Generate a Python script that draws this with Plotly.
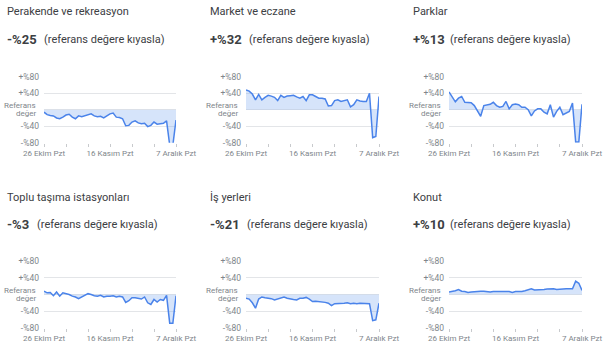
import pandas as pd
import plotly.graph_objects as go

# ---------------- data ----------------
start_date = "2020-10-26"
n_days = 43
tick_dates = ["2020-10-26", "2020-11-02", "2020-11-09", "2020-11-16",
              "2020-11-23", "2020-11-30", "2020-12-07"]
tick_text = ["26 Ekim Pzt", "", "", "16 Kasım Pzt", "", "", "7 Aralık Pzt"]
y_tick_vals = [80, 40, 0, -40, -80]
y_tick_text = ["+%80", "+%40", "", "-%40", "-%80"]
baseline_label = ["Referans", "değer"]

titles = ["Perakende ve rekreasyon", "Market ve eczane", "Parklar",
          "Toplu taşıma istasyonları", "İş yerleri", "Konut"]
headline = ["-%25", "+%32", "+%13", "-%3", "-%21", "+%10"]
subtitle = "(referans değere kıyasla)"

retail = [-6, -12, -14, -15, -20, -22, -18, -13, -11, -18, -22, -15, -17, -15,
          -12, -10, -15, -17, -16, -20, -15, -10, -8, -18, -19, -22, -39, -38,
          -30, -27, -32, -34, -33, -41, -38, -30, -35, -34, -33, -27, -86, -86, -25]
grocery = [48, 45, 38, 24, 37, 24, 30, 35, 33, 30, 22, 35, 30, 33, 34, 35, 31,
           28, 32, 22, 36, 36, 32, 28, 28, 26, 9, 10, 22, 24, 20, 22, 24, 7, 12,
           24, 21, 20, 20, 40, -68, -65, 32]
parks = [43, 30, 19, 28, 32, 18, 17, 17, 10, -2, -16, 10, 11, 13, 18, 10, 6, 8,
         20, 2, 12, 14, 12, 6, 6, 0, -15, -3, 2, 2, -6, -10, 12, -18, -4, 6, -12,
         -7, -4, 16, -78, -78, 13]
transit = [8, 4, 5, -3, 6, -4, 4, 2, 0, -4, -6, -10, -6, -3, 2, 0, -3, -4, -2,
           -6, -4, -4, -3, -6, -4, -6, -19, -15, -8, -8, -9, -11, -6, -20, -24,
           -12, -18, -12, -14, -2, -69, -69, -3]
workplace = [-9, -11, -20, -33, -11, -6, -8, -9, -10, -13, -11, -9, -6, -9, -11,
             -12, -13, -9, -9, -7, -11, -17, -16, -17, -17, -19, -21, -27, -22,
             -22, -22, -21, -20, -22, -21, -22, -21, -21, -21, -22, -63, -61, -21]
residential = [6, 7, 9, 12, 8, 7, 5, 6, 7, 7, 8, 8, 7, 6, 7, 7, 8, 8, 7, 7, 5, 7,
               7, 7, 9, 12, 14, 11, 11, 11, 12, 13, 14, 14, 12, 13, 14, 14, 14,
               14, 32, 27, 10]

series = [retail, grocery, parks, transit, workplace, residential]
dates = pd.date_range(start_date, periods=n_days)

# ---------------- layout ----------------
W, H = 614, 351
x_px = [(44, 176), (246, 379), (449, 582)]
y_px = [(76.7, 142.7), (261.3, 327.7)]
title_x = [5, 208, 411]
sub_x = [[42, 247, 448], [35, 245, 448]]
title_y = [12, 197]
value_y = [39, 224]

LINE = "#4a83ea"
FILL = "rgba(120,165,240,0.30)"
GRID = "#e3e5e8"
TXT = "#3c4043"
GRAY = "#80868b"
FONT = "Roboto"

fig = go.Figure()
annotations = []
for k in range(6):
    r, c = divmod(k, 3)
    ax = "" if k == 0 else str(k + 1)
    fig.add_trace(go.Scatter(
        x=dates, y=series[k], mode="lines", fill="tozeroy",
        line=dict(color=LINE, width=1.5), fillcolor=FILL,
        xaxis="x" + ax, yaxis="y" + ax, showlegend=False, hoverinfo="skip"))
    x0, x1 = x_px[c]
    yt, yb = y_px[r]
    fig.update_layout(**{
        "xaxis" + ax: dict(
            domain=[x0 / W, x1 / W], anchor="y" + ax, automargin=False,
            range=[dates[0], dates[-1]],
            tickvals=pd.to_datetime(tick_dates), ticktext=tick_text,
            ticks="outside", ticklen=3, tickcolor="#c8cacd", tickwidth=1,
            showgrid=False, zeroline=False, showline=False,
            tickfont=dict(family=FONT, size=8, color=GRAY)),
        "yaxis" + ax: dict(
            domain=[1 - yb / H, 1 - yt / H], anchor="x" + ax, automargin=False,
            range=[-80, 80], tickvals=y_tick_vals, ticktext=y_tick_text,
            showgrid=True, gridcolor=GRID, gridwidth=1, zeroline=False,
            showline=False, ticks="", ticklabelstandoff=4,
            tickfont=dict(family=FONT, size=8.5, color=GRAY)),
    })
    for txt, shift in zip(baseline_label, (4.2, -4.0)):
        annotations.append(dict(
            text=txt, xref="x" + ax + " domain", x=0, yref="y" + ax, y=0,
            xanchor="right", yanchor="middle", xshift=-6, yshift=shift,
            showarrow=False, font=dict(family=FONT, size=8, color=GRAY)))
    annotations.append(dict(
        text=titles[k], x=title_x[c] / W, y=1 - title_y[r] / H,
        xref="paper", yref="paper", xanchor="left", yanchor="middle",
        showarrow=False, font=dict(family=FONT, size=11, color=TXT)))
    annotations.append(dict(
        text="<b>" + headline[k] + "</b>", x=title_x[c] / W, y=1 - value_y[r] / H,
        xref="paper", yref="paper", xanchor="left", yanchor="middle",
        showarrow=False, font=dict(family=FONT, size=13, color=TXT)))
    annotations.append(dict(
        text=subtitle, x=sub_x[r][c] / W, y=1 - value_y[r] / H,
        xref="paper", yref="paper", xanchor="left", yanchor="middle",
        showarrow=False, font=dict(family=FONT, size=11, color=TXT)))

fig.update_layout(
    width=W, height=H, margin=dict(l=0, r=0, t=0, b=0, autoexpand=False),
    paper_bgcolor="white", plot_bgcolor="white",
    annotations=annotations, showlegend=False)

fig.write_html("out.html")
